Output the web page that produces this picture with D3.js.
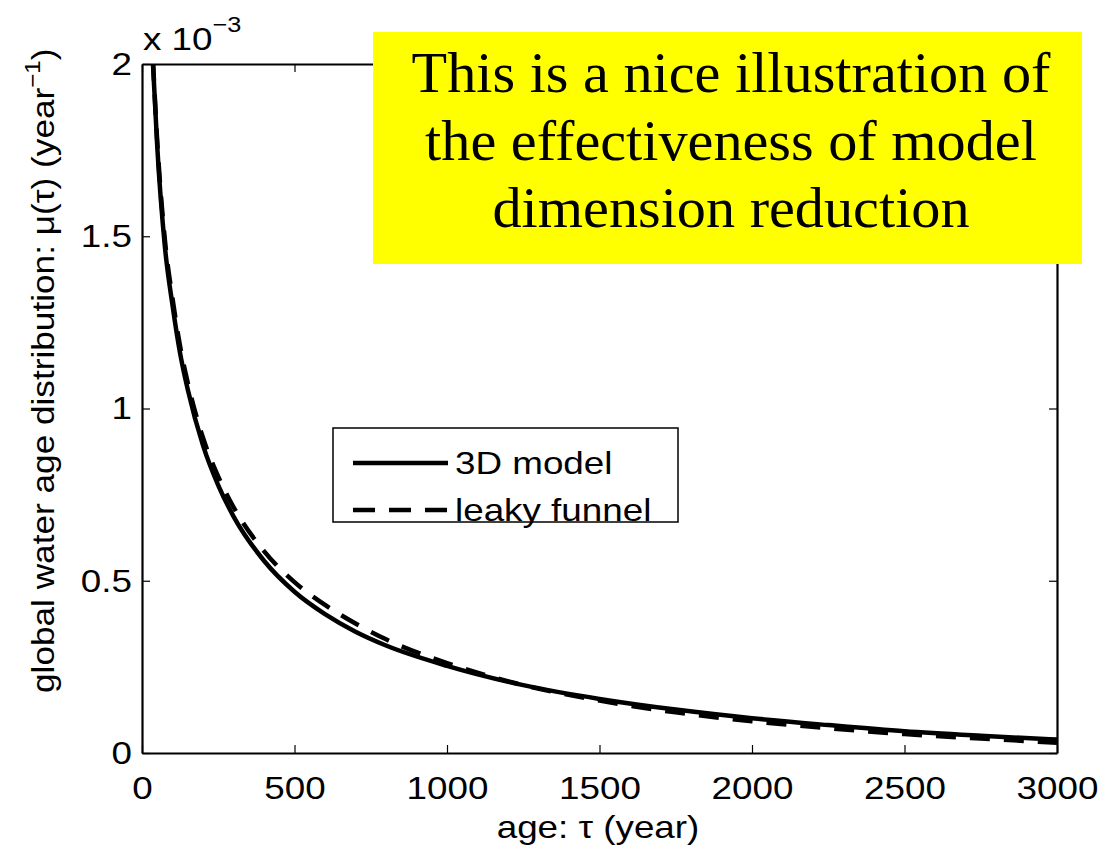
<!doctype html>
<html>
<head>
<meta charset="utf-8">
<script src="https://d3js.org/d3.v7.min.js"></script>
<style>
  body { margin: 0; background: #fff; }
  text { fill: #000; }
</style>
</head>
<body>
<svg width="1115" height="849"></svg>
<script>
// age tau (years) and the two distributions, in units of 1e-3 per year
var ages    = [36, 50, 75, 100, 125, 150, 200, 250, 300, 400, 500, 600, 700, 800, 1000, 1250, 1500, 1750, 2000, 2250, 2500, 2750, 3000];
var model3d = [2.00, 1.76, 1.47, 1.30, 1.16, 1.055, 0.893, 0.777, 0.687, 0.558, 0.468, 0.403, 0.352, 0.312, 0.253, 0.197, 0.157, 0.126, 0.101, 0.081, 0.063, 0.050, 0.039];
var leaky   = [2.01, 1.775, 1.49, 1.32, 1.18, 1.075, 0.915, 0.802, 0.714, 0.586, 0.496, 0.43, 0.376, 0.33, 0.261, 0.197, 0.152, 0.118, 0.092, 0.072, 0.055, 0.042, 0.030];
var xTicks = [0, 500, 1000, 1500, 2000, 2500, 3000];
var yTicks = [0, 0.5, 1, 1.5, 2];
var seriesNames = ["3D model", "leaky funnel"];
var noteLines = ["This is a nice illustration of", "the effectiveness of model", "dimension reduction"];

var svg = d3.select("svg");
var sans = "'Liberation Sans', Arial, sans-serif";
var serif = "'Liberation Serif', 'Times New Roman', serif";
var pL = 142, pR = 1057, pT = 64, pB = 753;
var sx = 1.15; // the sans text in the original is a bit wide

var x = d3.scaleLinear().domain([0, 3000]).range([pL, pR]);
var y = d3.scaleLinear().domain([0, 2]).range([pB, pT]);

svg.append("rect").attr("width", 1115).attr("height", 849).attr("fill", "#fff");

svg.append("defs").append("clipPath").attr("id", "plot")
   .append("rect").attr("x", pL).attr("y", pT)
   .attr("width", pR - pL).attr("height", pB - pT);

// axes, ticks pointing inward like matlab
var fmt = function(d) { return String(d); };

var gx = svg.append("g").attr("transform", "translate(0," + pB + ")")
   .call(d3.axisBottom(x).tickValues(xTicks).tickFormat(fmt).tickSizeInner(-8).tickSizeOuter(0).tickPadding(23));
var gy = svg.append("g").attr("transform", "translate(" + pL + ",0)")
   .call(d3.axisLeft(y).tickValues(yTicks).tickFormat(fmt).tickSizeInner(-8).tickSizeOuter(0).tickPadding(10));
var gt = svg.append("g").attr("transform", "translate(0," + pT + ")")
   .call(d3.axisTop(x).tickValues(xTicks).tickFormat("").tickSizeInner(-8).tickSizeOuter(0));
var gr = svg.append("g").attr("transform", "translate(" + pR + ",0)")
   .call(d3.axisRight(y).tickValues(yTicks).tickFormat("").tickSizeInner(-8).tickSizeOuter(0));

[gx, gy, gt, gr].forEach(function(g) {
  g.select(".domain").attr("stroke-width", 2.2);
  g.selectAll(".tick line").attr("stroke-width", 1.2);
  g.selectAll("text").attr("font-size", 32).attr("font-family", sans).attr("fill", "#000");
});
gx.selectAll(".tick text").attr("transform", "scale(" + sx + ",1)");
gy.selectAll(".tick text").attr("x", -10 / sx).attr("transform", "scale(" + sx + ",1)");

// lines
var line = function(vals) {
  return d3.line().curve(d3.curveMonotoneX)
    .x(function(d, i) { return x(ages[i]); })
    .y(function(d) { return y(d); })(vals);
};
var plot = svg.append("g").attr("clip-path", "url(#plot)");
plot.append("path").attr("d", line(model3d))
    .attr("fill", "none").attr("stroke", "#000").attr("stroke-width", 4.5);
plot.append("path").attr("d", line(leaky))
    .attr("fill", "none").attr("stroke", "#000").attr("stroke-width", 4.5)
    .attr("stroke-dasharray", "20,14");

// exponent label
var ex = svg.append("text").attr("transform", "translate(143,50) scale(" + sx + ",1)")
   .attr("font-size", 32).attr("font-family", sans);
ex.append("tspan").text("x 10");
ex.append("tspan").attr("font-size", 22).attr("dy", -18).text("\u22123");

// axis titles
svg.append("text").attr("transform", "translate(598,838) scale(" + sx + ",1)")
   .attr("text-anchor", "middle").attr("font-size", 32).attr("font-family", sans)
   .text("age: \u03c4 (year)");

var yt = svg.append("text").attr("transform", "translate(54,693) rotate(-90) scale(1.1,1)")
   .attr("font-size", 32).attr("font-family", sans);
yt.append("tspan").text("global water age distribution: \u03bc(\u03c4) (year");
yt.append("tspan").attr("font-size", 22).attr("dy", -14).text("\u22121");
yt.append("tspan").attr("dy", 14).text(")");

// legend
var lg = svg.append("g");
lg.append("rect").attr("x", 333).attr("y", 428).attr("width", 345).attr("height", 94)
  .attr("fill", "#fff").attr("stroke", "#000").attr("stroke-width", 1.5);
seriesNames.forEach(function(name, i) {
  var ly = 463 + i * 47;
  lg.append("line").attr("x1", 353).attr("x2", 448).attr("y1", ly).attr("y2", ly)
    .attr("stroke", "#000").attr("stroke-width", 4.5)
    .attr("stroke-dasharray", i == 1 ? "22,14" : null);
  lg.append("text").attr("transform", "translate(455," + (ly + 11) + ") scale(" + sx + ",1)")
    .attr("font-size", 32).attr("font-family", sans).text(name);
});

// yellow note
svg.append("rect").attr("x", 373).attr("y", 32).attr("width", 709).attr("height", 232).attr("fill", "#ffff00");
noteLines.forEach(function(t, i) {
  svg.append("text").attr("transform", "translate(731," + (92 + i * 67.5) + ") scale(1.04,1)")
     .attr("text-anchor", "middle").attr("font-size", 56)
     .attr("font-family", serif)
     .text(t);
});
</script>
</body>
</html>
